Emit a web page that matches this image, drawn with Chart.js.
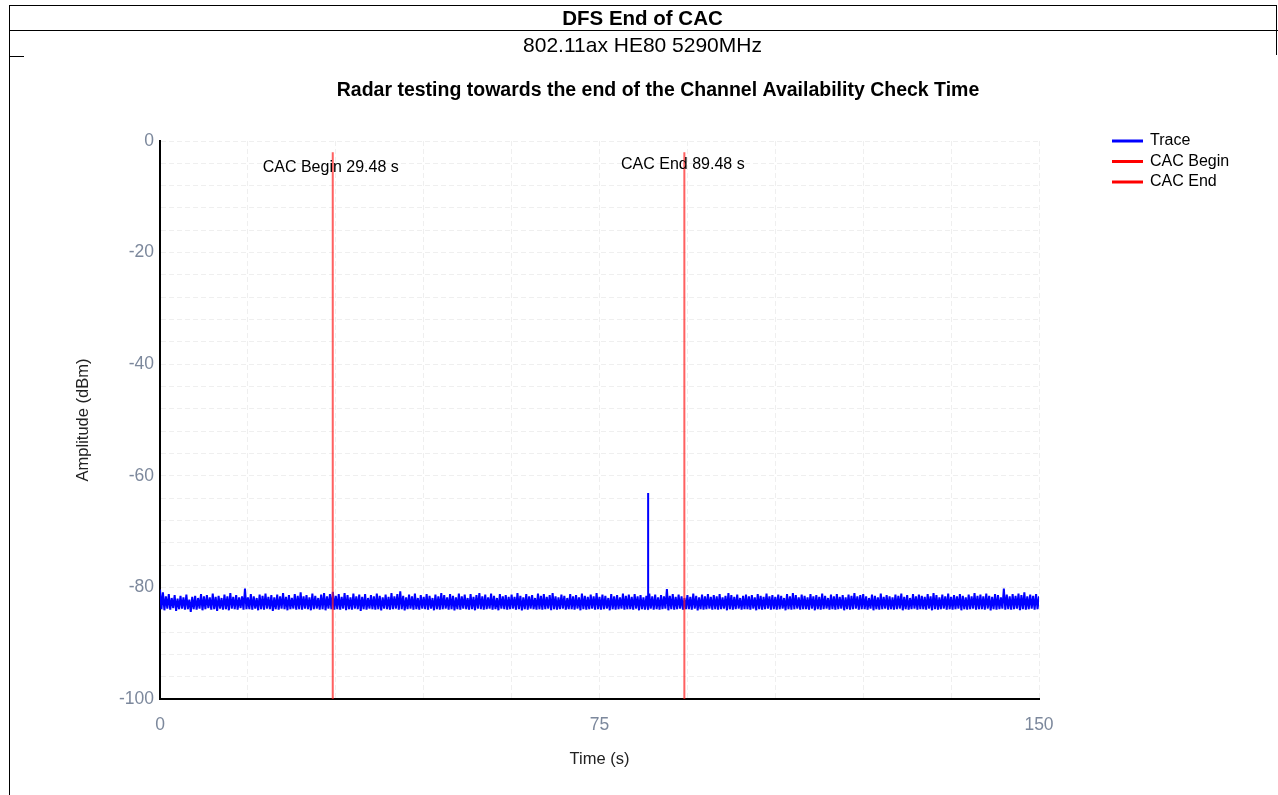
<!DOCTYPE html>
<html><head><meta charset="utf-8">
<script src="https://cdn.jsdelivr.net/npm/chart.js@4/dist/chart.umd.min.js"></script>
<style>
html,body{margin:0;padding:0;background:#fff;width:1278px;height:795px;overflow:hidden;font-family:"Liberation Sans",Arial,sans-serif;}
canvas{position:absolute;left:0;top:0;}
.ln{position:absolute;background:#000;}
.hd{position:absolute;left:9px;width:1267px;text-align:center;color:#000;white-space:nowrap;}
</style></head>
<body>
<canvas id="c" width="1278" height="795"></canvas>
<div class="ln" style="left:9px;top:5px;width:1268px;height:1px"></div>
<div class="ln" style="left:9px;top:30px;width:1269px;height:1px"></div>
<div class="ln" style="left:9px;top:5px;width:1px;height:790px"></div>
<div class="ln" style="left:1276px;top:5px;width:1px;height:50px"></div>
<div class="ln" style="left:9px;top:56px;width:15px;height:1px"></div>
<div class="hd" style="top:5px;height:25px;line-height:25px;font-weight:bold;font-size:20.5px;">DFS End of CAC</div>
<div class="hd" style="top:31px;height:28px;line-height:28px;font-size:21px;">802.11ax HE80 5290MHz</div>
<script>
// ---- data ----
const chartTitle = "Radar testing towards the end of the Channel Availability Check Time";
const xAxisTitle = "Time (s)";
const yAxisTitle = "Amplitude (dBm)";
const xMin = 0, xMax = 150, xGridStep = 15;
const yMin = -100, yMax = 0, yGridStep = 4;
const xTickLabels = [0, 75, 150];
const yTickLabels = [0, -20, -40, -60, -80, -100];
const traceStart = 0, traceStep = 0.25; // seconds per sample
const traceValues = [
-80.4,-83.9,-80.9,-84.1,-81.6,-83.8,-81.2,-84.0,-81.9,-83.7,-81.4,-84.2,-82.0,-83.9,-81.5,-83.8,-81.8,-84.0,-81.3,-83.9,
-82.2,-84.4,-81.7,-83.9,-81.5,-84.0,-81.9,-83.8,-81.2,-84.1,-81.6,-83.9,-81.4,-83.7,-81.8,-84.0,-81.1,-83.9,-81.7,-84.2,
-81.5,-83.8,-81.9,-84.0,-81.3,-83.9,-81.6,-84.1,-81.0,-83.8,-81.7,-83.9,-81.4,-84.0,-81.8,-83.7,-81.6,-84.0,-80.2,-83.9,
-81.8,-83.9,-81.2,-84.0,-81.6,-83.8,-81.9,-84.1,-81.3,-83.9,-81.5,-84.0,-81.1,-83.8,-81.7,-83.9,-81.4,-84.2,-81.8,-83.9,
-81.3,-84.0,-81.6,-83.8,-81.0,-83.9,-81.7,-84.1,-81.4,-83.9,-81.9,-83.8,-81.2,-84.0,-81.5,-83.9,-80.9,-84.0,-81.6,-83.8,
-81.4,-83.9,-81.8,-84.1,-81.1,-83.9,-81.5,-83.8,-81.9,-84.0,-81.3,-83.9,-81.0,-84.1,-81.6,-83.8,-81.2,-83.9,-80.8,-84.0,
-81.5,-83.9,-81.2,-84.0,-81.7,-83.8,-81.0,-84.1,-81.4,-83.9,-81.8,-84.0,-81.1,-83.8,-81.6,-83.9,-81.3,-84.2,-81.7,-83.9,
-81.2,-84.0,-81.9,-83.8,-81.4,-83.9,-81.6,-84.0,-81.1,-83.9,-81.5,-84.1,-81.8,-83.8,-81.3,-83.9,-81.7,-84.0,-81.0,-83.9,
-81.6,-83.8,-81.2,-84.0,-80.7,-83.9,-81.5,-84.1,-81.8,-83.9,-81.3,-83.8,-81.6,-84.0,-81.1,-83.9,-81.9,-84.0,-81.4,-83.8,
-81.7,-83.9,-81.2,-84.0,-81.5,-83.8,-81.9,-84.1,-81.3,-83.9,-81.6,-84.0,-81.0,-83.9,-81.4,-83.8,-81.8,-84.0,-81.2,-83.9,
-81.5,-84.1,-81.8,-83.9,-81.1,-84.0,-81.6,-83.8,-81.3,-83.9,-81.9,-84.0,-81.2,-83.9,-81.7,-84.1,-81.4,-83.8,-81.0,-83.9,
-81.6,-84.0,-81.3,-83.9,-81.8,-83.8,-81.1,-84.0,-81.5,-83.9,-81.9,-84.1,-81.2,-83.8,-81.6,-83.9,-81.4,-84.0,-81.7,-83.9,
-81.3,-83.8,-81.7,-84.0,-81.0,-83.9,-81.5,-84.1,-81.8,-83.9,-81.2,-84.0,-81.6,-83.8,-81.4,-83.9,-81.9,-84.0,-81.1,-83.9,
-81.5,-84.0,-81.2,-83.9,-81.7,-83.8,-81.4,-84.1,-81.0,-83.9,-81.6,-84.0,-81.8,-83.9,-81.3,-83.8,-81.5,-84.0,-81.9,-83.9,
-81.2,-83.9,-81.6,-84.0,-81.4,-83.8,-81.8,-84.1,-81.1,-83.9,-81.5,-84.0,-81.7,-83.9,-81.3,-83.8,-81.6,-84.0,-81.0,-83.9,
-81.7,-84.0,-81.3,-83.9,-81.5,-83.8,-81.9,-84.1,-81.2,-83.9,-81.6,-84.0,-81.4,-83.9,-81.8,-83.8,-81.1,-84.0,-81.5,-83.9,
-81.3,-83.9,-81.7,-84.0,-81.2,-83.8,-81.6,-84.1,-81.4,-83.9,-81.8,-84.0,-81.5,-83.9,-81.1,-83.8,-81.6,-84.0,-81.3,-83.9,
-81.8,-84.0,-81.4,-83.9,-81.6,-83.8,-80.3,-84.1,-81.5,-83.9,-81.2,-84.0,-81.7,-83.9,-81.3,-83.8,-81.6,-84.0,-81.9,-83.9,
-81.4,-83.9,-81.7,-84.0,-81.1,-83.8,-81.5,-84.1,-81.8,-83.9,-81.3,-84.0,-81.6,-83.9,-81.2,-83.8,-81.7,-84.0,-81.4,-83.9,
-81.6,-84.0,-81.2,-83.9,-81.8,-83.8,-81.5,-84.1,-81.0,-83.9,-81.4,-84.0,-81.7,-83.9,-81.3,-83.8,-81.9,-84.0,-81.5,-83.9,
-81.3,-83.9,-81.6,-84.0,-81.4,-83.8,-81.8,-84.1,-81.2,-83.9,-81.5,-84.0,-81.7,-83.9,-81.1,-83.8,-81.6,-84.0,-81.4,-83.9,
-81.7,-84.0,-81.3,-83.9,-81.5,-83.8,-81.9,-84.1,-81.2,-83.9,-81.6,-84.0,-81.0,-83.9,-81.4,-83.8,-81.8,-84.0,-81.3,-83.9,
-81.5,-83.9,-81.8,-84.0,-81.2,-83.8,-81.6,-84.1,-81.4,-83.9,-81.7,-84.0,-81.1,-83.9,-81.5,-83.8,-81.9,-84.0,-81.3,-83.9,
-81.6,-84.0,-81.2,-83.9,-81.7,-83.8,-81.4,-84.1,-81.8,-83.9,-81.3,-84.0,-81.5,-83.9,-81.0,-83.8,-81.6,-84.0,-81.4,-83.9,
-81.2,-83.9,-81.6,-84.0,-81.9,-83.8,-81.3,-84.1,-81.5,-83.9,-81.8,-84.0,-81.1,-83.9,-81.7,-83.8,-81.4,-84.0,-81.6,-83.9,
-81.8,-84.0,-81.3,-83.9,-81.5,-83.8,-81.1,-84.1,-81.7,-83.9,-81.4,-84.0,-81.9,-83.9,-81.2,-83.8,-81.6,-84.0,-81.3,-83.9,
-81.5,-83.9,-81.7,-84.0,-81.2,-83.8,-81.6,-84.1,-81.0,-83.9,-81.4,-84.0,-81.8,-83.9,-81.3,-83.8,-81.6,-84.0,-81.1,-83.9,
-81.7,-84.0,-81.4,-83.9,-81.6,-83.8,-81.2,-84.1,-81.5,-83.9,-81.8,-84.0,-81.3,-83.9,-81.6,-83.8,-81.0,-84.0,-81.5,-83.9,
-81.3,-83.9,-81.6,-84.0,-81.1,-83.8,-81.5,-84.1,-81.7,-83.9,-81.2,-84.0,-81.4,-83.9,-81.8,-83.8,-80.2,-84.0,-81.3,-83.9,
-81.6,-84.0,-81.2,-83.9,-81.5,-83.8,-81.1,-84.1,-81.4,-83.9,-80.9,-84.0,-81.6,-83.9,-81.3,-83.8,-81.5,-84.0,-81.2,-83.9,
-81.6
];
const spikeTimes = [83.3];
const spikePeaks = [-63.1];
const spikeBases = [-83.9];
const cacNames = ["CAC Begin", "CAC End"];
const cacTimes = [29.48, 89.48];
const cacTop = -2;
const cacLabels = ["CAC Begin 29.48 s", "CAC End 89.48 s"];
const cacLabelY = [-4.8, -4.3];
const cacLabelDx = [-2, -1.5];

// ---- build dataset tables ----
const traceData = [];
const spikeQueue = spikeTimes.map((t, k) => ({t, peak: spikePeaks[k], base: spikeBases[k]}));
for (let i = 0; i < traceValues.length; i++) {
  const t = traceStart + i * traceStep;
  while (spikeQueue.length && spikeQueue[0].t <= t) {
    const s = spikeQueue.shift();
    traceData.push({x: s.t, y: s.base}, {x: s.t, y: s.peak}, {x: s.t, y: s.base});
  }
  traceData.push({x: t, y: traceValues[i]});
}
const cacDatasets = cacTimes.map((t, k) => ({
  label: cacNames[k],
  data: [{x: t, y: cacTop}, {x: t, y: yMin}],
  borderColor: 'rgba(255,30,30,0.7)',
  legendColor: '#ff0000',
  borderWidth: 2,
  pointRadius: 0,
  order: k,
  clip: false
}));

const FONT = '"Liberation Sans", Arial, sans-serif';

const decor = {
  id: 'decor',
  afterDatasetsDraw(chart) {
    const ctx = chart.ctx;
    const xs = chart.scales.x, ys = chart.scales.y;
    ctx.save();
    ctx.fillStyle = '#000';
    ctx.font = '16px ' + FONT;
    ctx.textAlign = 'center';
    ctx.textBaseline = 'middle';
    cacLabels.forEach((txt, k) => {
      ctx.fillText(txt, xs.getPixelForValue(cacTimes[k]) + cacLabelDx[k], ys.getPixelForValue(cacLabelY[k]));
    });
    ctx.restore();
  },
  afterDraw(chart) {
    const ctx = chart.ctx;
    ctx.save();
    // chart title
    ctx.fillStyle = '#000';
    ctx.font = 'bold 19.5px ' + FONT;
    ctx.textAlign = 'center';
    ctx.textBaseline = 'middle';
    ctx.fillText(chartTitle, 658, 91);
    // legend
    ctx.font = '16px ' + FONT;
    ctx.textAlign = 'left';
    chart.data.datasets.forEach((ds, i) => {
      const y = 141 + i * 20.5;
      ctx.strokeStyle = ds.legendColor || ds.borderColor;
      ctx.lineWidth = 3;
      ctx.beginPath();
      ctx.moveTo(1112, y);
      ctx.lineTo(1143, y);
      ctx.stroke();
      ctx.fillStyle = '#000';
      ctx.fillText(ds.label, 1150, y);
    });
    ctx.restore();
  }
};

new Chart(document.getElementById('c'), {
  type: 'line',
  data: {
    datasets: [
      {
        label: 'Trace',
        data: traceData,
        borderColor: '#0000ff',
        legendColor: '#0000ff',
        borderWidth: 2,
        borderJoinStyle: 'bevel',
        pointRadius: 0,
        tension: 0,
        order: 5
      },
      ...cacDatasets
    ]
  },
  options: {
    responsive: false,
    animation: false,
    devicePixelRatio: 1,
    events: [],
    layout: {padding: {left: 0, right: 239, top: 141, bottom: 0}},
    plugins: {
      legend: {display: false},
      title: {display: false},
      tooltip: {enabled: false}
    },
    scales: {
      x: {
        type: 'linear',
        min: xMin, max: xMax,
        afterFit(s) { s.height = 96; },
        ticks: {
          stepSize: xGridStep,
          autoSkip: false,
          maxRotation: 0,
          padding: 16,
          color: '#7c889c',
          font: {family: FONT, size: 17.5},
          callback: v => xTickLabels.includes(v) ? String(v) : ''
        },
        grid: {color: '#efefef', lineWidth: 1, drawTicks: false},
        border: {display: true, color: '#000', width: 2, dash: [5, 3]},
        title: {display: true, text: xAxisTitle, color: '#222', font: {family: FONT, size: 16.5}, padding: {top: 0, bottom: 26}}
      },
      y: {
        type: 'linear',
        min: yMin, max: yMax,
        afterFit(s) { s.width = 160; },
        ticks: {
          stepSize: yGridStep,
          autoSkip: false,
          padding: 6,
          color: '#7c889c',
          font: {family: FONT, size: 17.5},
          callback: v => yTickLabels.includes(v) ? String(v) : ''
        },
        grid: {color: '#efefef', lineWidth: 1, drawTicks: false},
        border: {display: true, color: '#000', width: 2, dash: [5, 3]},
        title: {display: true, text: yAxisTitle, color: '#222', font: {family: FONT, size: 16.5}, padding: {top: 74, bottom: 0}}
      }
    }
  },
  plugins: [decor]
});
</script>
</body></html>
